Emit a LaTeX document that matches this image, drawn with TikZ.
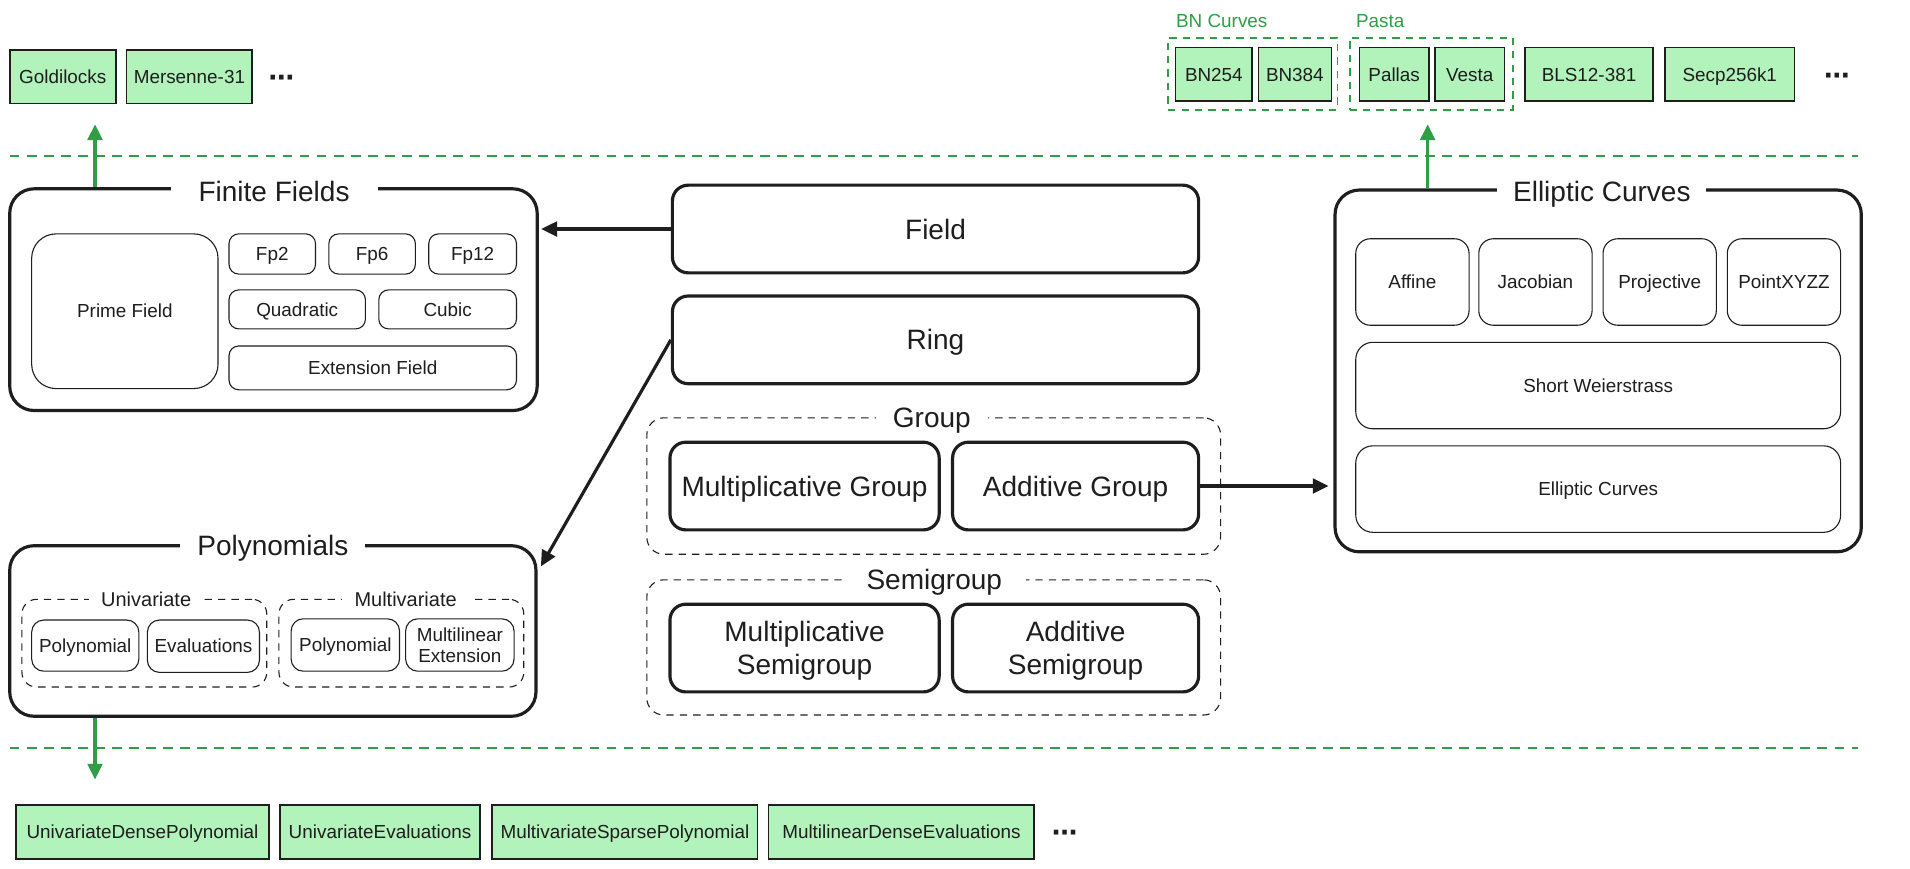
\documentclass[tikz,border=0pt]{standalone}
\usepackage{fontspec}
\setmainfont{Liberation Sans}
\newfontfamily\dejavu{DejaVu Sans}
\usetikzlibrary{arrows.meta}
\definecolor{ink}{HTML}{1E1E1E}
\definecolor{lgreen}{HTML}{B2F2BB}
\definecolor{dgreen}{HTML}{2F9E44}
\newcommand\mybox[7]{\node[#1, minimum width={#5-#3}, minimum height={#6-#4}] (#2) at ({(#3+#5)/2},{(#4+#6)/2}) {#7};}
\tikzset{
  base/.style={inner sep=0pt, align=center, text=ink, text depth=0pt},
  big/.style={font=\fontsize{23}{27}\selectfont, text height=16.5pt},
  small/.style={font=\fontsize{15.5}{17.5}\selectfont, text height=11.1pt},
  multiline/.style={text height=, text depth=0pt},
  bigcont/.style={base, draw=ink, line width=2.6pt, rounded corners=20pt},
  thickbox/.style={base, big, draw=ink, line width=2.6pt, rounded corners=13pt},
  thinbox/.style={base, small, draw=ink, line width=0.9pt, rounded corners=#1},
  thinbox/.default=8pt,
  greenbox/.style={base, small, draw=ink, fill=lgreen, line width=1.3pt},
  dashgroup/.style={base, draw=ink, line width=0.9pt, dash pattern=on 6pt off 5pt, rounded corners=#1},
  dashgroup/.default=14pt,
  gdashbox/.style={base, draw=dgreen, line width=1.6pt, dash pattern=on 6pt off 5pt},
  bigtitle/.style={base, big, fill=white, inner ysep=4pt},
  smalltitle/.style={base, fill=white, inner ysep=3pt, inner xsep=10pt, font=\fontsize{16.4}{19}\selectfont, text height=11.7pt},
  glabel/.style={base, small, text=dgreen},
  dots/.style={base, font=\dejavu\bfseries\fontsize{21}{24}\selectfont, text height=, text depth=},
  blackarrow/.style={draw=ink, line width=2.6pt, -{Triangle[length=13pt,width=12pt]}},
  greenarrow/.style={draw=dgreen, line width=2.8pt, -{Triangle[length=13pt,width=12pt]}},
  gline/.style={draw=dgreen, line width=1.1pt, dash pattern=on 8pt off 6pt},
}
\begin{document}
\begin{tikzpicture}[x=1pt,y=-1pt]
\fill[white] (0,0) rectangle (1568,713);
\useasboundingbox (0,0) rectangle (1568,713);

% ---------- top green boxes ----------
\mybox{greenbox}{gold}{8}{41}{95}{85}{Goldilocks}
\mybox{greenbox}{mers}{104}{41}{207}{85}{Mersenne-31}
\node[dots] (dotsA) at (231,66) {⋯};

\mybox{gdashbox}{bngrp}{959}{31}{1098}{90}{}
\mybox{gdashbox}{pastagrp}{1108}{31}{1242}{90}{}
\node[glabel] (bnlab) at (1003,17) {BN Curves};
\node[glabel] (pastalab) at (1133,17) {Pasta};
\mybox{greenbox}{bn254}{965}{39}{1028}{83}{BN254}
\mybox{greenbox}{bn384}{1033}{39}{1093}{83}{BN384}
\mybox{greenbox}{pallas}{1116}{39}{1173}{83}{Pallas}
\mybox{greenbox}{vesta}{1178}{39}{1235}{83}{Vesta}
\mybox{greenbox}{bls}{1252}{39}{1357}{83}{BLS12-381}
\mybox{greenbox}{secp}{1367}{39}{1473}{83}{Secp256k1}
\node[dots] (dotsB) at (1508,65) {⋯};

% ---------- green dashed separators ----------
\coordinate (l1a) at (8,128);
\coordinate (l1b) at (1525,128);
\coordinate (l2a) at (8,614);
\coordinate (l2b) at (1525,614);
\draw[gline] (l1a) -- (l1b);
\draw[gline] (l2a) -- (l2b);

% ---------- Finite Fields ----------
\mybox{bigcont}{ff}{8}{155}{441}{337}{}
\node[bigtitle, inner xsep=23pt] (fft) at (225,157) {Finite Fields};
\mybox{thinbox=20pt}{prime}{26}{192}{179}{319}{Prime Field}
\mybox{thinbox}{fp2}{188}{192}{259}{225}{Fp2}
\mybox{thinbox}{fp6}{270}{192}{341}{225}{Fp6}
\mybox{thinbox}{fp12}{352}{192}{424}{225}{Fp12}
\mybox{thinbox}{quad}{188}{238}{300}{270}{Quadratic}
\mybox{thinbox}{cubic}{311}{238}{424}{270}{Cubic}
\mybox{thinbox}{ext}{188}{284}{424}{320}{Extension Field}

% ---------- center stack ----------
\mybox{thickbox}{field}{552}{152}{984}{224}{Field}
\mybox{thickbox}{ring}{552}{243}{984}{315}{Ring}

\mybox{dashgroup}{grp}{531}{343}{1002}{455}{}
\node[bigtitle, inner xsep=14pt] (grpt) at (765,343) {Group};
\mybox{thickbox}{mulg}{550}{363}{771}{435}{Multiplicative Group}
\mybox{thickbox}{addg}{782}{363}{984}{435}{Additive Group}

\mybox{dashgroup}{sgrp}{531}{476}{1002}{587}{}
\node[bigtitle, inner xsep=20pt] (sgrpt) at (767,476) {Semigroup};
\mybox{thickbox, multiline}{muls}{550}{496}{771}{568}{Multiplicative\\Semigroup}
\mybox{thickbox, multiline}{adds}{782}{496}{984}{568}{Additive\\Semigroup}

% ---------- Elliptic Curves ----------
\mybox{bigcont}{ec}{1096}{156}{1528}{453}{}
\node[bigtitle, inner xsep=13pt] (ect) at (1315,157) {Elliptic Curves};
\mybox{thinbox=12pt}{affine}{1113}{196}{1206}{267}{Affine}
\mybox{thinbox=12pt}{jac}{1214}{196}{1307}{267}{Jacobian}
\mybox{thinbox=12pt}{proj}{1316}{196}{1409}{267}{Projective}
\mybox{thinbox=12pt}{xyzz}{1418}{196}{1511}{267}{PointXYZZ}
\mybox{thinbox=14pt}{sw}{1113}{281}{1511}{352}{Short Weierstrass}
\mybox{thinbox=14pt}{ecin}{1113}{366}{1511}{437}{Elliptic Curves}

% ---------- Polynomials ----------
\mybox{bigcont}{poly}{8}{448}{440}{588}{}
\node[bigtitle, inner xsep=14pt] (polyt) at (224,448) {Polynomials};
\mybox{dashgroup=12pt}{uni}{18}{492}{219}{564}{}
\node[smalltitle] (unit) at (120,492) {Univariate};
\mybox{thinbox=10pt}{upoly}{26}{509}{114}{551}{Polynomial}
\mybox{thinbox=10pt}{uevals}{121}{509}{213}{552}{Evaluations}
\mybox{dashgroup=12pt}{multi}{229}{492}{430}{564}{}
\node[smalltitle] (multit) at (333,492) {Multivariate};
\mybox{thinbox=10pt}{mpoly}{239}{508}{328}{551}{Polynomial}
\mybox{thinbox=10pt, multiline}{mle}{333}{508}{422}{551}{Multilinear\\Extension}

% ---------- bottom green boxes ----------
\mybox{greenbox}{udp}{13}{661}{221}{705}{UnivariateDensePolynomial}
\mybox{greenbox}{uev}{230}{661}{394}{705}{UnivariateEvaluations}
\mybox{greenbox}{msp}{404}{661}{622}{705}{MultivariateSparsePolynomial}
\mybox{greenbox}{mde}{631}{661}{849}{705}{MultilinearDenseEvaluations}
\node[dots] (dotsC) at (874,686) {⋯};

% ---------- connectors ----------
\draw[blackarrow] (field.west) -- ([xshift=2pt]ff.east |- field.west);
\coordinate (polyin) at (444,465);
\draw[blackarrow] (ring.west) -- (polyin);
\draw[blackarrow] (addg.east) -- ([xshift=-4pt]ec.west |- addg.east);

\coordinate (g1) at (78,102);
\coordinate (g2) at (1172,102);
\coordinate (g3) at (78,640);
\draw[greenarrow] (g1 |- ff.north) -- (g1);
\draw[greenarrow] (g2 |- ec.north) -- (g2);
\draw[greenarrow] (g3 |- poly.south) -- (g3);
\end{tikzpicture}
\end{document}
